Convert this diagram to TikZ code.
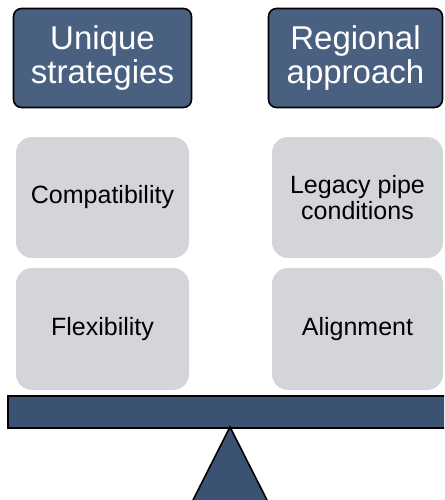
\documentclass[tikz,border=0pt]{standalone}
\usepackage{fontspec}
\setmainfont{Liberation Sans}
\definecolor{headblue}{RGB}{74,96,128}
\definecolor{barblue}{RGB}{59,82,114}
\definecolor{boxgray}{RGB}{212,213,217}
\begin{document}
\begin{tikzpicture}[x=1pt,y=-1pt,
  header/.style={draw=black, line width=1.6pt, fill=headblue, rounded corners=8pt,
    text=white, align=center, font=\fontsize{33}{34}\selectfont, inner sep=0pt},
  item/.style={fill=boxgray, rounded corners=16pt, text=black, align=center,
    font=\fontsize{25}{26}\selectfont, inner sep=0pt},
  beam/.style={draw=black, line width=1.6pt, fill=barblue}
]
\useasboundingbox (0,0) rectangle (444,500);
\clip (0,0) rectangle (444,500);
\node[header, minimum width=178pt, minimum height=99pt] (h1) at (102.5,58) {Unique\\strategies};
\node[header, minimum width=174pt, minimum height=99pt] (h2) at (355.5,58) {Regional\\approach};
\node[item, minimum width=173pt, minimum height=121pt] (a1) at (102.5,197.5) {Compatibility};
\node[item, minimum width=171pt, minimum height=121pt] (b1) at (357.5,197.5) {Legacy pipe\\conditions};
\node[item, minimum width=173pt, minimum height=122pt] (a2) at (102.5,329) {Flexibility};
\node[item, minimum width=171pt, minimum height=122pt] (b2) at (357.5,329) {Alignment};
\node[beam, minimum width=450pt, minimum height=32pt, inner sep=0pt, anchor=north west] (bar) at (7,395) {};
\coordinate (apex) at (230,427);
\draw[beam] (apex) -- (190,506) -- (270,506) -- cycle;
\end{tikzpicture}
\end{document}
